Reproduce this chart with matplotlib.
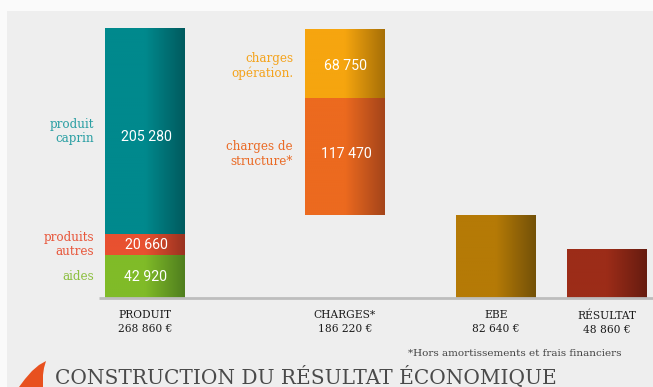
import numpy as np
import matplotlib
matplotlib.use("Agg")
import matplotlib.pyplot as plt
from matplotlib.patches import Polygon, Rectangle
from matplotlib.colors import to_rgb

# --- data -------------------------------------------------------------------
categories = ["PRODUIT", "CHARGES*", "EBE", "RÉSULTAT"]
totals = [268860, 186220, 82640, 48860]

produit_parts = ["aides", "produits\nautres", "produit\ncaprin"]
produit_values = [42920, 20660, 205280]

charges_parts = ["charges de\nstructure*", "charges\nopération."]
charges_values = [117470, 68750]

footnote = "*Hors amortissements et frais financiers"
title = "CONSTRUCTION DU RÉSULTAT ÉCONOMIQUE"

# --- styling ----------------------------------------------------------------
produit_colors = [("#80bb28", "#4f7e1e"), ("#e85130", "#993220"), ("#00898d", "#005a5e")]
produit_text = ["#8cbf3f", "#e8563a", "#2a9fa3"]
produit_value_shift = [0, 0, -5500]
charges_colors = [("#ec6a1f", "#a4441a"), ("#f6a50f", "#a66f07")]
charges_text = ["#ea6a25", "#f4a31c"]
charges_shift = [2500, -2200]
ebe_color = ("#b57a06", "#735108")
res_color = ("#9c2c18", "#661c10")

W, H = 653, 387
xpos = [145, 345, 496, 607]
bar_w = 80


def fmt(v):
    return f"{v:,}".replace(",", " ")


def grad_bar(ax, x, bottom, height, colors):
    # flat on the left half, then darkens towards the right edge
    c0, c1 = np.array(to_rgb(colors[0])), np.array(to_rgb(colors[1]))
    t = np.linspace(0, 1, 200)
    k = np.clip((t - 0.5) / 0.5, 0, 1)[:, None]
    img = (c0 * (1 - k) + c1 * k)[None, :, :]
    ax.imshow(img, extent=(x - bar_w / 2, x + bar_w / 2, bottom, bottom + height),
              aspect="auto", interpolation="bilinear", zorder=2)


fig = plt.figure(figsize=(W / 100, H / 100), dpi=100)
fig.patch.set_facecolor("#fafafa")
# grey panel
fig.patches.append(Rectangle((7 / W, 0), 1, (H - 11) / H, transform=fig.transFigure,
                             facecolor="#eeeeee", edgecolor="none", zorder=-5))

ax = fig.add_axes([7 / W, (H - 298) / H, (W - 7) / W, 287 / H])
ax.axis("off")

serif = "DejaVu Serif"

# produit stack
bottom = 0
for name, v, cols, tc, dv in zip(produit_parts, produit_values, produit_colors,
                                 produit_text, produit_value_shift):
    grad_bar(ax, xpos[0], bottom, v, cols)
    ax.text(xpos[0] + 1, bottom + v / 2 + dv, fmt(v), color="white", ha="center",
            va="center", family="Roboto", fontsize=10.2, zorder=3)
    ax.text(xpos[0] - bar_w / 2 - 11, bottom + v / 2, name, color=tc, ha="right",
            va="center", family=serif, fontsize=8.6, linespacing=1.15, zorder=3)
    bottom += v

# charges hang from the top of produit
top = totals[0]
bottom = top - totals[1]
for name, v, cols, tc, dl in zip(charges_parts, charges_values, charges_colors,
                                 charges_text, charges_shift):
    grad_bar(ax, xpos[1], bottom, v, cols)
    ax.text(xpos[1] + 1, bottom + v / 2 + dl, fmt(v), color="white", ha="center",
            va="center", family="Roboto", fontsize=10.2, zorder=3)
    ax.text(xpos[1] - bar_w / 2 - 12, bottom + v / 2 + dl, name, color=tc, ha="right",
            va="center", family=serif, fontsize=8.6, linespacing=1.15, zorder=3)
    bottom += v

grad_bar(ax, xpos[2], 0, totals[2], ebe_color)
grad_bar(ax, xpos[3], 0, totals[3], res_color)
ax.set_xlim(7, W)
ax.set_ylim(0, 287000 * totals[0] / 269000)

# baseline
ax.plot([99, W], [0, 0], color="#bdbdbd", lw=2, zorder=4, solid_capstyle="butt",
        clip_on=False)

# category labels under the baseline
for x, cat, tot in zip(xpos, categories, totals):
    ax.annotate(f"{cat}\n{fmt(tot)} €", (x, 0), xytext=(0, -9), textcoords="offset points",
                ha="center", va="top", family=serif, fontsize=7.7, color="#1a1a1a",
                linespacing=1.45, annotation_clip=False)

fig.text(622 / W, 1 - 353 / H, footnote, ha="right", va="center", family=serif,
         fontsize=7.5, color="#444444")

fig.text(55 / W, 1 - 377 / H, title, ha="left", va="center", family=serif,
         fontsize=14.5, color="#4a4a4a")

# small orange mark next to the title
logo = np.array([(19, 387), (25, 379), (32, 371), (39, 365), (46, 361),
                 (44, 368), (43, 375), (43, 387)])
fig.patches.append(Polygon(np.column_stack([logo[:, 0] / W, 1 - logo[:, 1] / H]),
                           closed=True, transform=fig.transFigure,
                           facecolor="#e8511f", edgecolor="none", zorder=3))

fig.savefig("out.png", dpi=100, facecolor=fig.get_facecolor())
